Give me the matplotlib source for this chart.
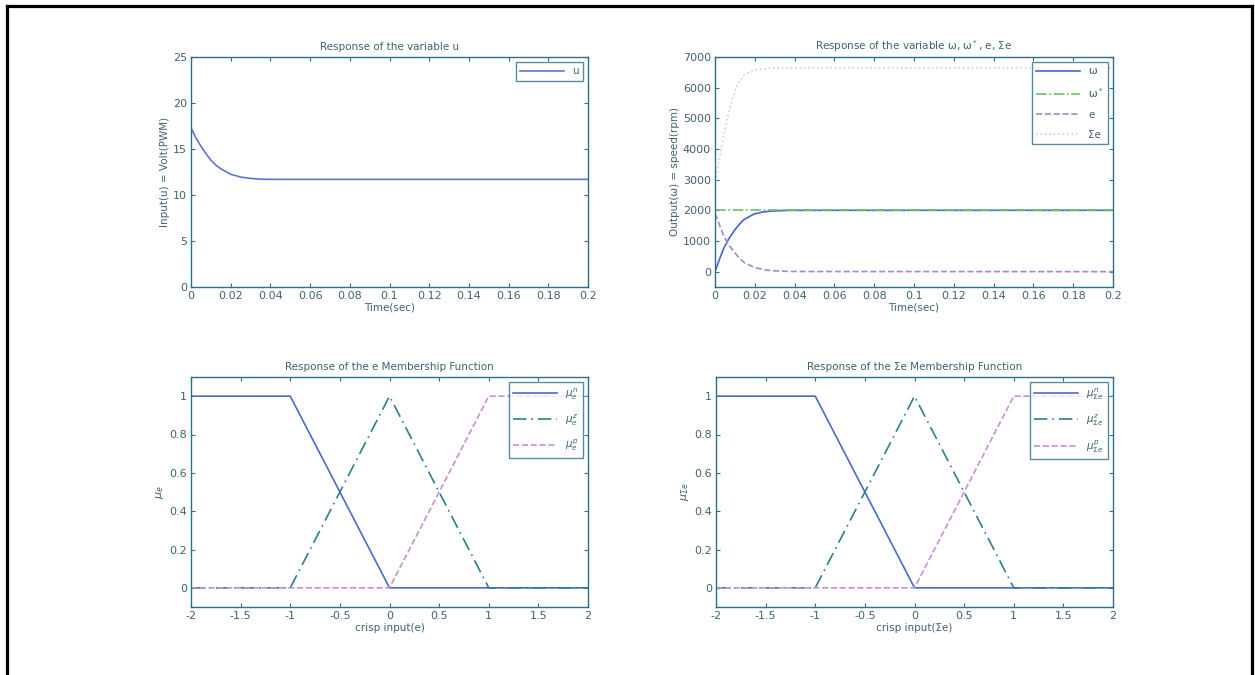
import matplotlib
matplotlib.use("Agg")
import matplotlib.pyplot as plt
from matplotlib.lines import Line2D

# --- data ---
t_u = [0, 0.0025, 0.005, 0.0075, 0.01, 0.0125, 0.015, 0.02, 0.025, 0.03, 0.035, 0.04, 0.2]
u = [17.3, 16.2, 15.3, 14.5, 13.8, 13.25, 12.85, 12.25, 11.95, 11.8, 11.72, 11.7, 11.7]

t_w = [0, 0.0025, 0.0045, 0.007, 0.0096, 0.012, 0.0146, 0.0196, 0.024, 0.028, 0.035, 0.04, 0.2]
w = [0, 450, 780, 1080, 1330, 1530, 1700, 1880, 1945, 1975, 1995, 2000, 2000]
t_ref = [0, 0.2]
w_ref = [2000, 2000]
t_e = [0, 0.0025, 0.0045, 0.007, 0.0096, 0.012, 0.0146, 0.0196, 0.025, 0.03, 0.04, 0.2]
e = [1900, 1480, 1150, 860, 650, 450, 300, 140, 60, 25, 5, 0]
t_se = [0, 0.002, 0.0045, 0.007, 0.0104, 0.0146, 0.0196, 0.028, 0.04, 0.2]
se = [2800, 3600, 4500, 5200, 6000, 6420, 6570, 6640, 6650, 6650]

x_mf = [-2, -1, 0, 1, 2]
mf_n = [1, 1, 0, 0, 0]
mf_z = [0, 0, 1, 0, 0]
mf_p = [0, 0, 0, 1, 1]

AX = "#2b7088"
TXT = "#3d6372"
W, H = 1255, 675

fig = plt.figure(figsize=(12.55, 6.75), dpi=100)


def frac(x0, y0, x1, y1):
    return [x0 / W, 1 - y1 / H, (x1 - x0) / W, (y1 - y0) / H]


def style(ax):
    for s in ax.spines.values():
        s.set_color(AX)
        s.set_linewidth(1.0)
    ax.tick_params(direction="in", length=3, width=0.8, color=AX, labelcolor=TXT,
                   labelsize=8, top=True, right=True, pad=3)


def add_legend(ax, **kw):
    leg = ax.legend(loc="upper right", fontsize=7.5, handlelength=4.2, frameon=True,
                    fancybox=False, borderaxespad=0.5, labelcolor=TXT, **kw)
    leg.get_frame().set_edgecolor(AX)
    leg.get_frame().set_linewidth(1.0)
    return leg


TIME_TICKS = [0, 0.02, 0.04, 0.06, 0.08, 0.1, 0.12, 0.14, 0.16, 0.18, 0.2]
TIME_LABELS = ["0", "0.02", "0.04", "0.06", "0.08", "0.1", "0.12", "0.14", "0.16", "0.18", "0.2"]

# top-left: u
ax1 = fig.add_axes(frac(191, 57, 588, 287))
ax1.plot(t_u, u, color="#5b74d6", lw=1.2, label="u")
ax1.set_xlim(0, 0.2)
ax1.set_ylim(0, 25)
ax1.set_xticks(TIME_TICKS)
ax1.set_xticklabels(TIME_LABELS)
ax1.set_yticks([0, 5, 10, 15, 20, 25])
ax1.set_title("Response of the variable u", fontsize=7.5, color=TXT, pad=5)
ax1.set_xlabel("Time(sec)", fontsize=7.5, color=TXT, labelpad=1)
ax1.set_ylabel("Input(u) = Volt(PWM)", fontsize=7.5, color=TXT, labelpad=2)
style(ax1)
add_legend(ax1)

# top-right: omega, omega*, e, sum e
ax2 = fig.add_axes(frac(715, 57, 1113, 287))
ax2.plot(t_w, w, color="#4466cc", lw=1.2, label="ω")
ax2.plot(t_ref, w_ref, color="#66c46a", lw=1.2, ls="-.", label="ω$^*$")
ax2.plot(t_e, e, color="#a58ac6", lw=1.2, ls="--", label="e")
ax2.plot(t_se, se, color="#c3d0f2", lw=1.2, ls=":", label="Σe")
ax2.set_xlim(0, 0.2)
ax2.set_ylim(-500, 7000)
ax2.set_xticks(TIME_TICKS)
ax2.set_xticklabels(TIME_LABELS)
ax2.set_yticks([0, 1000, 2000, 3000, 4000, 5000, 6000, 7000])
ax2.set_title("Response of the variable ω, ω$^*$, e, Σe", fontsize=7.5, color=TXT, pad=5)
ax2.set_xlabel("Time(sec)", fontsize=7.5, color=TXT, labelpad=1)
ax2.set_ylabel("Output(ω) = speed(rpm)", fontsize=7.5, color=TXT, labelpad=2)
style(ax2)
add_legend(ax2, labelspacing=0.95)

# bottom: membership functions
mf_axes = [
    (frac(191, 377, 588, 607), "e", "Response of the e Membership Function", "crisp input(e)"),
    (frac(716, 377, 1113, 607), "Σe", "Response of the Σe Membership Function", "crisp input(Σe)"),
]
for rect, var, title, xlabel in mf_axes:
    ax = fig.add_axes(rect)
    sub = var.replace("Σ", r"\Sigma ")
    ax.plot(x_mf, mf_n, color="#4a6ad0", lw=1.2, label=rf"$\mu_{{{sub}}}^{{n}}$")
    ax.plot(x_mf, mf_z, color="#2f7d8f", lw=1.2, ls=(0, (8, 3, 1, 3)), label=rf"$\mu_{{{sub}}}^{{z}}$")
    ax.plot(x_mf, mf_p, color="#c890d8", lw=1.2, ls="--", label=rf"$\mu_{{{sub}}}^{{p}}$")
    ax.set_xlim(-2, 2)
    ax.set_ylim(-0.1, 1.1)
    ax.set_xticks([-2, -1.5, -1, -0.5, 0, 0.5, 1, 1.5, 2])
    ax.set_xticklabels(["-2", "-1.5", "-1", "-0.5", "0", "0.5", "1", "1.5", "2"])
    ax.set_yticks([0, 0.2, 0.4, 0.6, 0.8, 1])
    ax.set_yticklabels(["0", "0.2", "0.4", "0.6", "0.8", "1"])
    ax.set_title(title, fontsize=7.5, color=TXT, pad=5)
    ax.set_xlabel(xlabel, fontsize=7.5, color=TXT, labelpad=1)
    ax.set_ylabel(rf"$\mu_{{{sub}}}$", fontsize=8, color=TXT, labelpad=2)
    style(ax)
    add_legend(ax, labelspacing=1.0)

# page frame (left, top, right)
for (x0, y0, x1, y1) in [(7, 6, 7, H), (7, 6, 1252, 6), (1252, 6, 1252, H)]:
    fig.add_artist(Line2D([x0 / W, x1 / W], [1 - y0 / H, 1 - y1 / H],
                          transform=fig.transFigure, color="black", lw=2.3))

fig.savefig("out.png", dpi=100)
